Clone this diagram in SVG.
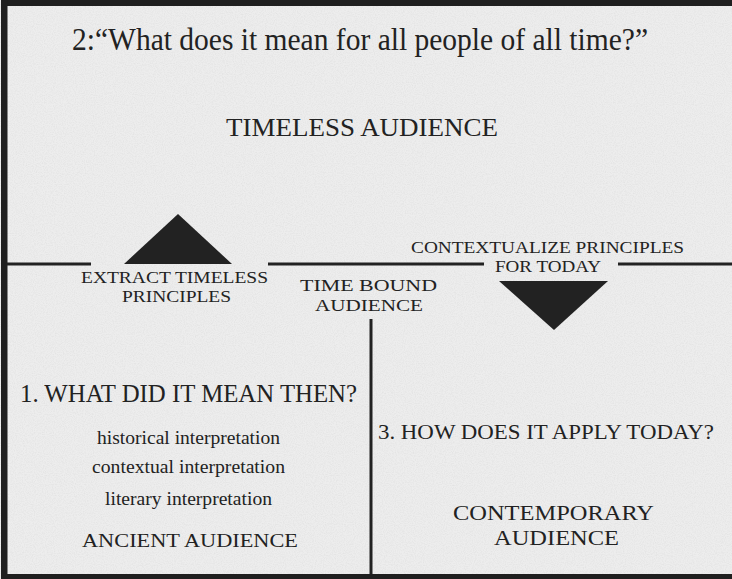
<svg xmlns="http://www.w3.org/2000/svg" width="732" height="579" viewBox="0 0 732 579">
  <defs>
    <filter id="paper" x="0" y="0" width="100%" height="100%">
      <feTurbulence type="fractalNoise" baseFrequency="0.9" numOctaves="3" seed="7" result="n"/>
      <feColorMatrix in="n" type="matrix" values="0 0 0 0 0.55  0 0 0 0 0.55  0 0 0 0 0.55  0 0 0 0.5 -0.18" result="speck"/>
      <feComposite in="speck" in2="SourceGraphic" operator="over"/>
    </filter>
    <style>
      .t { font-family: "Liberation Serif", "DejaVu Serif", serif; fill: #222; }
      .c { text-anchor: middle; }
      .ln { stroke: #222; stroke-width: 3; fill: none; }
      .tri { fill: #222; }
      .frame { fill: #1f1f1f; }
    </style>
  </defs>

  <rect x="0" y="0" width="732" height="579" fill="#ededed" filter="url(#paper)"/>

  <g id="frame">
    <rect class="frame" x="1" y="0" width="731" height="6"/>
    <rect class="frame" x="1" y="0" width="6.5" height="579"/>
    <rect class="frame" x="1" y="574" width="731" height="5"/>
  </g>

  <g id="connectors">
    <line class="ln" x1="7" y1="264" x2="91" y2="264"/>
    <line class="ln" x1="268" y1="264" x2="484" y2="264"/>
    <line class="ln" x1="618" y1="264" x2="732" y2="264"/>
    <line class="ln" x1="371" y1="319" x2="371" y2="574" stroke-width="2.5"/>
  </g>

  <g id="title">
    <text class="t" x="72" y="50" font-size="31" textLength="576" lengthAdjust="spacingAndGlyphs">2:“What does it mean for all people of all time?”</text>
  </g>

  <g id="timeless-audience">
    <text class="t c" x="362" y="136" font-size="26" textLength="272" lengthAdjust="spacingAndGlyphs">TIMELESS AUDIENCE</text>
  </g>

  <g id="extract">
    <polygon class="tri" points="124,264 232,264 178,214"/>
    <text class="t c" x="174.5" y="283" font-size="17" textLength="187" lengthAdjust="spacingAndGlyphs">EXTRACT TIMELESS</text>
    <text class="t c" x="176.5" y="302" font-size="17" textLength="109" lengthAdjust="spacingAndGlyphs">PRINCIPLES</text>
  </g>

  <g id="time-bound">
    <text class="t c" x="368.5" y="291" font-size="17.5" textLength="137" lengthAdjust="spacingAndGlyphs">TIME BOUND</text>
    <text class="t c" x="369" y="311" font-size="17.5" textLength="108" lengthAdjust="spacingAndGlyphs">AUDIENCE</text>
  </g>

  <g id="contextualize">
    <text class="t c" x="547.5" y="253" font-size="17" textLength="273" lengthAdjust="spacingAndGlyphs">CONTEXTUALIZE PRINCIPLES</text>
    <text class="t c" x="548" y="272" font-size="17" textLength="106" lengthAdjust="spacingAndGlyphs">FOR TODAY</text>
    <polygon class="tri" points="499,281 608,281 554,330"/>
  </g>

  <g id="ancient">
    <text class="t" x="20" y="402" font-size="25" textLength="337" lengthAdjust="spacingAndGlyphs">1. WHAT DID IT MEAN THEN?</text>
    <text class="t c" x="188.5" y="444" font-size="19" textLength="183" lengthAdjust="spacingAndGlyphs">historical interpretation</text>
    <text class="t c" x="188.5" y="473" font-size="19" textLength="193" lengthAdjust="spacingAndGlyphs">contextual interpretation</text>
    <text class="t c" x="188.5" y="505" font-size="19" textLength="167" lengthAdjust="spacingAndGlyphs">literary interpretation</text>
    <text class="t c" x="190" y="547" font-size="19" textLength="216" lengthAdjust="spacingAndGlyphs">ANCIENT AUDIENCE</text>
  </g>

  <g id="contemporary">
    <text class="t" x="378" y="439" font-size="22" textLength="336" lengthAdjust="spacingAndGlyphs">3. HOW DOES IT APPLY TODAY?</text>
    <text class="t c" x="553.5" y="520" font-size="22" textLength="201" lengthAdjust="spacingAndGlyphs">CONTEMPORARY</text>
    <text class="t c" x="556.5" y="545" font-size="22" textLength="125" lengthAdjust="spacingAndGlyphs">AUDIENCE</text>
  </g>
</svg>
